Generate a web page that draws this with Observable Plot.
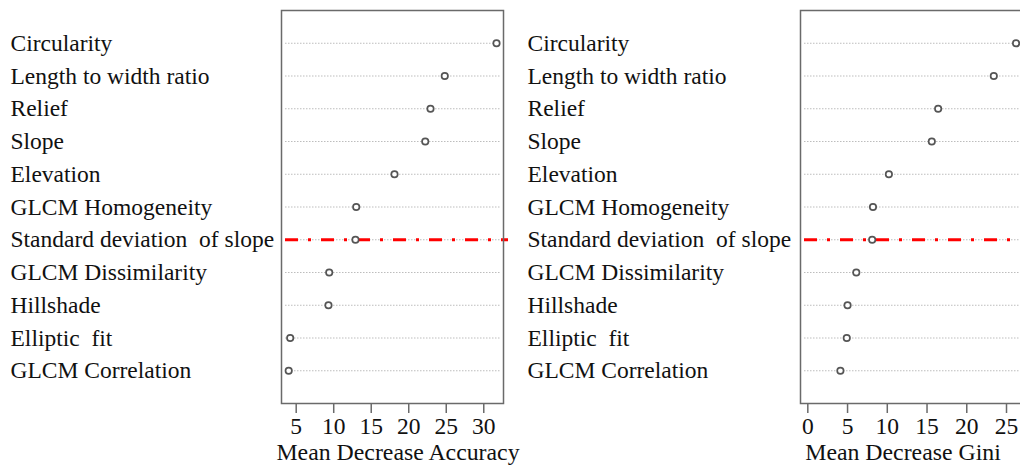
<!DOCTYPE html>
<html>
<head>
<meta charset="utf-8">
<script src="https://cdn.jsdelivr.net/npm/d3@7"></script>
<script src="https://cdn.jsdelivr.net/npm/@observablehq/plot@0.6"></script>
<style>
  html, body { margin: 0; padding: 0; background: #fff; }
  #wrap { width: 1020px; height: 465px; overflow: hidden; display: flex; flex-direction: row; }
  #wrap svg text { white-space: pre; }
</style>
</head>
<body>
<div id="wrap"></div>
<script>
const features = [
  "Circularity", "Length to width ratio", "Relief", "Slope", "Elevation",
  "GLCM Homogeneity", "Standard deviation  of slope", "GLCM Dissimilarity",
  "Hillshade", "Elliptic  fit", "GLCM Correlation"
];
const accuracy = [31.7, 24.8, 22.9, 22.2, 18.1, 13.0, 12.9, 9.4, 9.3, 4.2, 4.0];
const gini = [26.2, 23.4, 16.4, 15.6, 10.2, 8.2, 8.1, 6.1, 5.0, 4.9, 4.1];
const accuracyTicks = [5, 10, 15, 20, 25, 30];
const giniTicks = [0, 5, 10, 15, 20, 25];
const accuracyDomain = [3.04, 32.63];
const giniDomain = [-0.92, 27.39];
const cutoffFeature = "Standard deviation  of slope";

const FS = 23.5;
const FONT = "'Liberation Serif', 'Times New Roman', serif";

function panel({width, marginLeft, marginRight, domain, values, ticks, label, labelX, titleDx}) {
  const data = features.map((f, i) => ({feature: f, value: values[i]}));
  return Plot.plot({
    width, height: 465,
    marginLeft, marginRight, marginTop: 10, marginBottom: 62,
    style: {fontFamily: FONT, fontSize: FS + "px", color: "#000", background: "transparent", overflow: "visible"},
    x: {domain, axis: null},
    y: {type: "point", domain: features, padding: 1, round: false, axis: null},
    marks: [
      Plot.ruleY(features, {y: d => d, insetLeft: 4, insetRight: 3, stroke: "#bdbdbd", strokeWidth: 1, strokeDasharray: "1.5,1.5"}),
      Plot.ruleY([cutoffFeature], {y: d => d, stroke: "#ff0000", strokeWidth: 3, strokeDasharray: "13,10,3,10", insetLeft: 4, insetRight: -5}),
      Plot.frame({stroke: "#6a6a6a", strokeWidth: 1.5}),
      Plot.dot(data, {x: "value", y: "feature", r: 3.2, stroke: "#555", strokeWidth: 1.7, fill: "white"}),
      Plot.text(features, {y: d => d, text: d => d, frameAnchor: "left", textAnchor: "start", dx: -(marginLeft - labelX), fontSize: FS, fill: "#111"}),
      // tick marks below the frame
      Plot.ruleX(ticks, {x: d => d, insetTop: 465 - 62 - 10, insetBottom: -10, stroke: "#6a6a6a", strokeWidth: 1.5}),
      // tick labels
      Plot.text(ticks, {x: d => d, text: d => String(d), frameAnchor: "bottom", lineAnchor: "middle", dy: 22.5, fontSize: 23.5, fill: "#111"}),
      // axis title
      Plot.text([label], {text: d => d, frameAnchor: "bottom", lineAnchor: "middle", dy: 48.5, dx: titleDx, fontSize: 23.8, fill: "#111"})
    ]
  });
}

const wrap = document.getElementById("wrap");
wrap.append(panel({width: 515, marginLeft: 281, marginRight: 12, domain: accuracyDomain, values: accuracy, ticks: accuracyTicks, label: "Mean Decrease Accuracy", labelX: 10, titleDx: 5.5}));
wrap.append(panel({width: 520, marginLeft: 285, marginRight: 10, domain: giniDomain, values: gini, ticks: giniTicks, label: "Mean Decrease Gini", labelX: 12, titleDx: -10}));
</script>
</body>
</html>
